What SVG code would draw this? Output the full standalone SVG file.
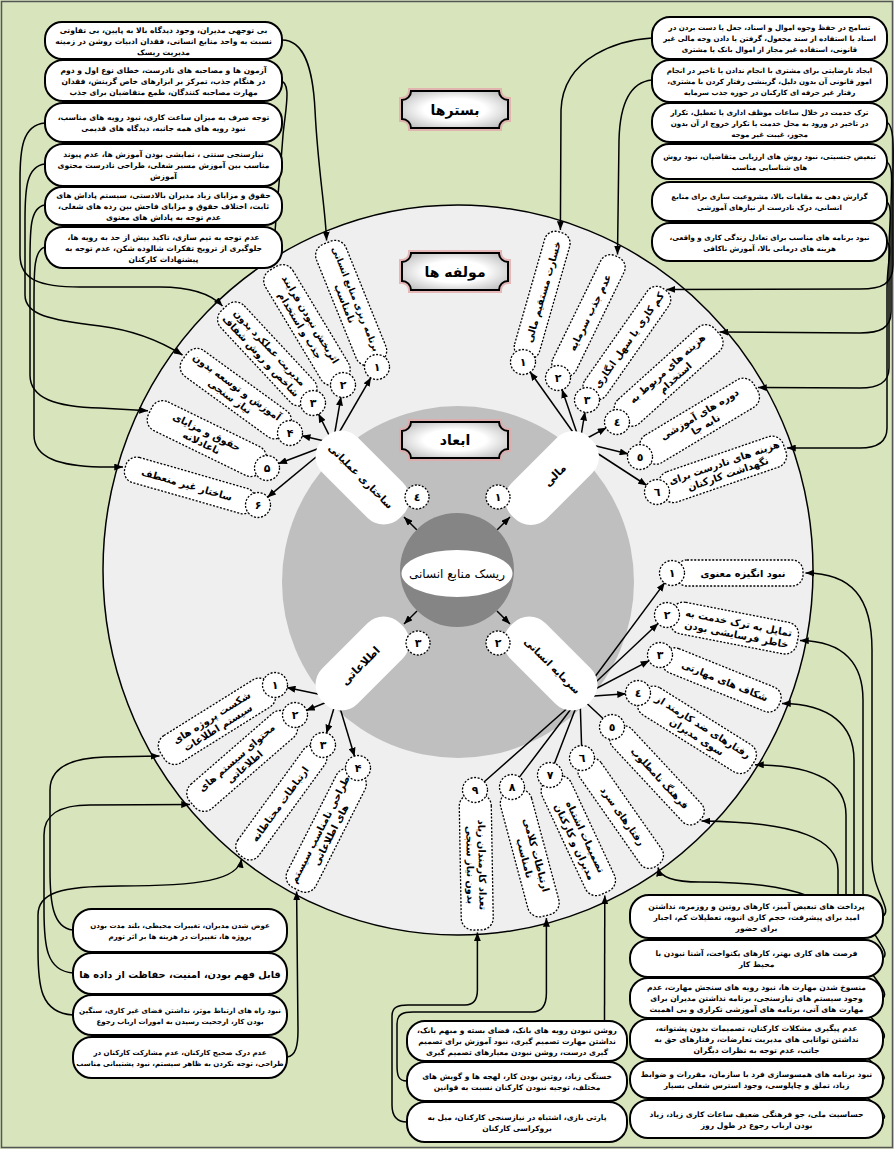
<svg xmlns="http://www.w3.org/2000/svg" width="894" height="1149" viewBox="0 0 894 1149">
<defs>
<style>
text{font-family:'DejaVu Sans',sans-serif;fill:#000}
.bx{fill:#fff;stroke:#000;stroke-width:2}
.bt{font-size:7.6px;font-weight:bold;text-anchor:middle;direction:rtl}
.ktl .bt{font-size:7.6px}
.ktr .bt{font-size:7.1px}
.kbl .bt{font-size:7.05px}
.kbm .bt{font-size:7.5px}
.kbr .bt{font-size:7.6px}
.pl{fill:#fff;stroke:#000;stroke-width:1.3;stroke-dasharray:2 1.6}
.pt{font-size:9.8px;font-weight:bold;text-anchor:middle;direction:rtl}
.nc{fill:#fff;stroke:#000;stroke-width:1.3;stroke-dasharray:2 1.6}
.nt{font-size:11px;font-weight:bold;text-anchor:middle}
.cn{fill:none;stroke:#000;stroke-width:1.5;marker-end:url(#ah)}
.ln{fill:none;stroke:#000;stroke-width:1.5}
.dp{fill:#fff}
.dt{font-size:10px;font-weight:bold;text-anchor:middle;direction:rtl}
.pq{fill:url(#pg);stroke:#000;stroke-width:2}
.pg{fill:none;stroke:#e2a9a9;stroke-width:6;stroke-opacity:0.8}
.ht{font-size:14px;font-weight:bold;text-anchor:middle;direction:rtl}
</style>
<marker id="ah" viewBox="0 0 10 8" refX="10" refY="4" markerWidth="9" markerHeight="7" markerUnits="userSpaceOnUse" orient="auto"><path d="M0,0 L10,4 L0,8 z" fill="#000"/></marker>
<radialGradient id="pg" cx="50%" cy="50%" r="65%"><stop offset="0.45" stop-color="#fff"/><stop offset="1" stop-color="#b8b8b8"/></radialGradient>
</defs>

<rect x="0" y="0" width="894" height="1149" fill="#d7e4bc"/>
<rect x="1.5" y="1.5" width="891" height="1146" fill="none" stroke="#555" stroke-width="1.5"/>

<g id="rings">
<ellipse cx="458" cy="570" rx="355" ry="365" fill="#efefef" stroke="#000" stroke-width="1.5"/>
<circle cx="458" cy="582" r="176" fill="#bfbfbf"/>
</g>

<g id="connectors">
<path class="cn" d="M282,40 C305,40 313,70 315,110 C318,170 325,205 326.6,240.5"/>
<path class="cn" d="M279,80 C292,82 286,105 283,135 C279,190 274,230 273.2,266"/>
<path class="cn" d="M45,123 C22,125 20,150 20,180 L20,255 C20,280 40,287 80,287 L160,287 C195,287 212,295 222.5,306"/>
<path class="cn" d="M45,164 C26,166 25,190 25,220 L25,295 C25,315 50,320 100,326 C140,331 165,344 182.5,355"/>
<path class="cn" d="M45,205 C30,207 30,230 30,260 L30,375 C30,398 55,407 100,408 L148,410.8"/>
<path class="cn" d="M45,247 C34,250 34,270 34,300 L34,435 C34,458 60,466 100,467 L123,467"/>
<path class="cn" d="M652,38 C622,40 563,55 561,110 L560.4,230"/>
<path class="cn" d="M652,80 C632,82 620,100 619,140 L617.5,254.5"/>
<path class="cn" d="M887,122 C895,128 893,150 893,180 L893,265 C893,284 882,289 860,289 L666.5,289.4"/>
<path class="cn" d="M887,162 C894,167 891,185 891,210 L891,312 C891,328 880,333 860,333 L719.5,332"/>
<path class="cn" d="M887,202 C893,207 889,225 889,250 L889,368 C889,383 878,388 860,388 L758,387.6"/>
<path class="cn" d="M887,242 C893,247 887,262 887,290 L887,428 C887,443 876,448 860,448 L787,448"/>
<path class="cn" d="M883,916 C893,910 872,890 872,860 L872,650 C872,598 852,573 805.5,573"/>
<path class="cn" d="M883,958 C893,951 863,930 863,900 L863,700 C863,665 845,641 800,640.6"/>
<path class="cn" d="M883,998 C893,990 854,965 854,930 L854,760 C854,725 830,704 782,703.5"/>
<path class="cn" d="M883,1039 C893,1030 846,1005 846,970 L846,815 C846,785 820,765 755,764.8"/>
<path class="cn" d="M883,1080 C893,1073 838,1045 838,1000 L838,870 C838,840 800,822 701.5,821"/>
<path class="cn" d="M883,1119 C895,1112 830,1080 830,1040 L830,920 C830,890 760,882 700,882 C675,882 660,878 658,867.5"/>
<path class="cn" d="M604.5,1021 L604.8,895.5"/>
<path class="cn" d="M407,1081 C398,1081 397,1075 397,1065 L397,1024 C397,1014 403,1012 413,1012 L532,1012 C544,1012 546.4,1003 546.4,993 L546.4,918"/>
<path class="cn" d="M407,1122 C396,1122 392,1115 392,1105 L392,1016 C392,1007 398,1005 408,1005 L465,1005 C475,1005 477.4,998 477.4,990 L477.4,932.5"/>
<path class="cn" d="M73,930 C52,928 50,900 50,870 L50,790 C50,768 70,758 105,757 L159.5,756"/>
<path class="cn" d="M73,973 C46,971 44,945 44,910 L44,835 C44,815 58,805 90,805 L190,804.5"/>
<path class="cn" d="M73,1015 C40,1013 38,985 38,950 L38,915 C38,893 60,886 120,886 C200,886 238,880 241.5,859"/>
<path class="cn" d="M287,1057 C296,1056 298,1045 298,1030 L296.6,891.5"/>
<path class="cn" d="M333,443 L371,377.4"/>
<path class="cn" d="M333,443 L341,396.8"/>
<path class="cn" d="M333,443 L318.4,413.7"/>
<path class="cn" d="M333,443 L301.7,435.7"/>
<path class="cn" d="M333,443 L278.2,463.8"/>
<path class="cn" d="M333,443 L267.3,497.4"/>
<path class="cn" d="M580,442 L530,371.8"/>
<path class="cn" d="M580,442 L561.9,389.3"/>
<path class="cn" d="M580,442 L585,411.8"/>
<path class="cn" d="M580,442 L606.5,427.7"/>
<path class="cn" d="M580,442 L628.4,454.1"/>
<path class="cn" d="M580,442 L646.9,485.5"/>
<path class="cn" d="M580,697 L664.8,582.6"/>
<path class="cn" d="M580,697 L658.3,623.2"/>
<path class="cn" d="M580,697 L649.4,660.6"/>
<path class="cn" d="M580,697 L626,693.8"/>
<path class="ln" d="M580,697 L603.3,718.8 M580,697 L581.6,746 M580,697 L554.3,763.8 M580,697 L519.2,777.4 M580,697 L484,782"/>
<path class="cn" d="M337,698 L286.7,687.5"/>
<path class="cn" d="M337,698 L306.1,710.5"/>
<path class="cn" d="M337,698 L326.4,733.5"/>
<path class="cn" d="M337,698 L354.6,756.5"/>
<path class="cn" d="M497,530 L510,517"/>
<path class="cn" d="M417,530 L404,517"/>
<path class="cn" d="M497,611 L510,624"/>
<path class="cn" d="M417,611 L404,624"/>
</g>

<g id="center">
<circle cx="457" cy="570" r="57" fill="#858585"/>
<ellipse cx="457" cy="573.5" rx="55.5" ry="23.5" fill="#fff"/>
<text x="457" y="578" font-size="12" text-anchor="middle" style="direction:rtl">ریسک منابع انسانی</text>
</g>

<g id="dim1"><g transform="translate(552,478) rotate(-45)"><rect class="dp" x="-55" y="-25" width="110" height="50" rx="23"/><text class="dt" x="4" y="4" style="font-size:11px">مالی</text></g><circle class="nc" cx="498" cy="497" r="12"/><text class="nt" x="498" y="501">۱</text></g>
<g id="dim2"><g transform="translate(550.5,663.5) rotate(45)"><rect class="dp" x="-55" y="-25" width="110" height="50" rx="23"/><text class="dt" x="3" y="4">سرمایه انسانی</text></g><circle class="nc" cx="498" cy="643" r="12"/><text class="nt" x="498" y="647">۲</text></g>
<g id="dim3"><g transform="translate(362.5,663.5) rotate(-45)"><rect class="dp" x="-55" y="-25" width="110" height="50" rx="23"/><text class="dt" x="-3" y="4" style="font-size:11px">اطلاعاتی</text></g><circle class="nc" cx="418" cy="643" r="12"/><text class="nt" x="418" y="647">۳</text></g>
<g id="dim4"><g transform="translate(362.5,477.5) rotate(45)"><rect class="dp" x="-55" y="-25" width="110" height="50" rx="23"/><text class="dt" x="-2" y="4">ساختاری عملیاتی</text></g><circle class="nc" cx="417" cy="497" r="12"/><text class="nt" x="417" y="501">٤</text></g>

<g id="plaque-bastarha"><path class="pg" d="M411,91 H499 A9,9 0 0 0 508,100 V119 A9,9 0 0 0 499,128 H411 A9,9 0 0 0 402,119 V100 A9,9 0 0 0 411,91 Z"/><path class="pq" d="M411,91 H499 A9,9 0 0 0 508,100 V119 A9,9 0 0 0 499,128 H411 A9,9 0 0 0 402,119 V100 A9,9 0 0 0 411,91 Z"/><text class="ht" x="455" y="114.5">بسترها</text></g>
<g id="plaque-molfeha"><path class="pg" d="M411,253 H499 A9,9 0 0 0 508,262 V281 A9,9 0 0 0 499,290 H411 A9,9 0 0 0 402,281 V262 A9,9 0 0 0 411,253 Z"/><path class="pq" d="M411,253 H499 A9,9 0 0 0 508,262 V281 A9,9 0 0 0 499,290 H411 A9,9 0 0 0 402,281 V262 A9,9 0 0 0 411,253 Z"/><text class="ht" x="455" y="276.5">مولفه ها</text></g>
<g id="plaque-abad"><path class="pg" d="M411,422 H499 A9,9 0 0 0 508,431 V449 A9,9 0 0 0 499,458 H411 A9,9 0 0 0 402,449 V431 A9,9 0 0 0 411,422 Z"/><path class="pq" d="M411,422 H499 A9,9 0 0 0 508,431 V449 A9,9 0 0 0 499,458 H411 A9,9 0 0 0 402,449 V431 A9,9 0 0 0 411,422 Z"/><text class="ht" x="455" y="445">ابعاد</text></g>

<g id="l1"><g transform="translate(377,367) rotate(68)"><rect class="pl" x="-134" y="-16" width="130" height="32" rx="12"/><text class="pt" x="-71" y="-2.5" style="font-size:9px">برنامه ریزی منابع انسانی</text><text class="pt" x="-71" y="9.5">نامناسب</text></g><circle class="nc" cx="377" cy="367" r="12.5"/><text class="nt" x="377" y="371">۱</text></g>
<g id="l2"><g transform="translate(343,385) rotate(59)"><rect class="pl" x="-136" y="-16" width="132" height="32" rx="12"/><text class="pt" x="-73" y="-2.5">اثربخش نبودن فرایند</text><text class="pt" x="-73" y="9.5">جذب و استخدام</text></g><circle class="nc" cx="343" cy="385" r="12.5"/><text class="nt" x="343" y="389">۲</text></g>
<g id="l3"><g transform="translate(313,403) rotate(47)"><rect class="pl" x="-130" y="-16" width="126" height="32" rx="12"/><text class="pt" x="-70" y="-2.5">مدیریت عملکرد بدون</text><text class="pt" x="-70" y="9.5">شاخص و روش شفاف</text></g><circle class="nc" cx="313" cy="403" r="12.5"/><text class="nt" x="313" y="407">۳</text></g>
<g id="l4"><g transform="translate(290,433) rotate(36)"><rect class="pl" x="-130" y="-16" width="126" height="32" rx="12"/><text class="pt" x="-70" y="-2.5">آموزش و توسعه بدون</text><text class="pt" x="-70" y="9.5">نیاز سنجی</text></g><circle class="nc" cx="290" cy="433" r="12.5"/><text class="nt" x="290" y="437">۴</text></g>
<g id="l5"><g transform="translate(267,468) rotate(26)"><rect class="pl" x="-130" y="-16" width="126" height="32" rx="12"/><text class="pt" x="-70" y="-2.5">حقوق و مزایای</text><text class="pt" x="-70" y="9.5">ناعادلانه</text></g><circle class="nc" cx="267" cy="468" r="12.5"/><text class="nt" x="267" y="472">۵</text></g>
<g id="l6"><g transform="translate(258,505) rotate(16)"><rect class="pl" x="-138" y="-13" width="134" height="26" rx="11"/><text class="pt" x="-74" y="3.5">ساختار غیر منعطف</text></g><circle class="nc" cx="258" cy="505" r="12.5"/><text class="nt" x="258" y="509">۶</text></g>

<g id="r1"><g transform="translate(523,362) rotate(-74)"><rect class="pl" x="4" y="-13" width="131" height="26" rx="11"/><text class="pt" x="73" y="3.5">خسارت مستقیم مالی</text></g><circle class="nc" cx="523" cy="362" r="12.5"/><text class="nt" x="523" y="366">۱</text></g>
<g id="r2"><g transform="translate(558,378) rotate(-64)"><rect class="pl" x="4" y="-13" width="131" height="26" rx="11"/><text class="pt" x="73" y="3.5">عدم جذب سرمایه</text></g><circle class="nc" cx="558" cy="378" r="12.5"/><text class="nt" x="558" y="382">۲</text></g>
<g id="r3"><g transform="translate(587,400) rotate(-55)"><rect class="pl" x="4" y="-13" width="131" height="26" rx="11"/><text class="pt" x="73" y="3.5">کم کاری یا سهل انگاری</text></g><circle class="nc" cx="587" cy="400" r="12.5"/><text class="nt" x="587" y="404">۳</text></g>
<g id="r4"><g transform="translate(617,422) rotate(-42)"><rect class="pl" x="4" y="-16" width="131" height="32" rx="12"/><text class="pt" x="73" y="-2.5">هزینه های مربوط به</text><text class="pt" x="73" y="9.5">استخدام</text></g><circle class="nc" cx="617" cy="422" r="12.5"/><text class="nt" x="617" y="426">٤</text></g>
<g id="r5"><g transform="translate(640,457) rotate(-31)"><rect class="pl" x="4" y="-16" width="131" height="32" rx="12"/><text class="pt" x="73" y="-2.5">دوره های آموزشی</text><text class="pt" x="73" y="9.5">نابه جا</text></g><circle class="nc" cx="640" cy="457" r="12.5"/><text class="nt" x="640" y="461">٥</text></g>
<g id="r6"><g transform="translate(657,492) rotate(-19)"><rect class="pl" x="4" y="-16" width="131" height="32" rx="12"/><text class="pt" x="73" y="-2.5">هزینه های نادرست برای</text><text class="pt" x="73" y="9.5">نگهداشت کارکنان</text></g><circle class="nc" cx="657" cy="492" r="12.5"/><text class="nt" x="657" y="496">٦</text></g>

<g id="s1"><g transform="translate(672,573) rotate(0)"><rect class="pl" x="4" y="-13" width="127" height="26" rx="11"/><text class="pt" x="71" y="3.5">نبود انگیزه معنوی</text></g><circle class="nc" cx="672" cy="573" r="12.5"/><text class="nt" x="672" y="577">۱</text></g>
<g id="s2"><g transform="translate(667,615) rotate(11)"><rect class="pl" x="4" y="-16" width="129" height="32" rx="12"/><text class="pt" x="72" y="-2.5">تمایل به ترک خدمت به</text><text class="pt" x="72" y="9.5">خاطر فرسایشی بودن</text></g><circle class="nc" cx="667" cy="615" r="12.5"/><text class="nt" x="667" y="619">۲</text></g>
<g id="s3"><g transform="translate(660,655) rotate(22)"><rect class="pl" x="4" y="-13" width="125" height="26" rx="11"/><text class="pt" x="70" y="3.5">شکاف های مهارتی</text></g><circle class="nc" cx="660" cy="655" r="12.5"/><text class="nt" x="660" y="659">۳</text></g>
<g id="s4"><g transform="translate(638,693) rotate(32)"><rect class="pl" x="4" y="-16" width="131" height="32" rx="12"/><text class="pt" x="73" y="-2.5">رفتارهای ضد کارمند از</text><text class="pt" x="73" y="9.5">سوی مدیران</text></g><circle class="nc" cx="638" cy="693" r="12.5"/><text class="nt" x="638" y="697">٤</text></g>
<g id="s5"><g transform="translate(612,727) rotate(47)"><rect class="pl" x="4" y="-13" width="124" height="26" rx="11"/><text class="pt" x="70" y="3.5">فرهنگ نامطلوب</text></g><circle class="nc" cx="612" cy="727" r="12.5"/><text class="nt" x="612" y="731">٥</text></g>
<g id="s6"><g transform="translate(582,758) rotate(55)"><rect class="pl" x="4" y="-13" width="127" height="26" rx="11"/><text class="pt" x="71" y="3.5">رفتارهای سرد</text></g><circle class="nc" cx="582" cy="758" r="12.5"/><text class="nt" x="582" y="762">٦</text></g>
<g id="s7"><g transform="translate(550,775) rotate(65)"><rect class="pl" x="4" y="-16" width="126" height="32" rx="12"/><text class="pt" x="71" y="-2.5">تصمیمات اشتباه</text><text class="pt" x="71" y="9.5">مدیران و کارکنان</text></g><circle class="nc" cx="550" cy="775" r="12.5"/><text class="nt" x="550" y="779">٧</text></g>
<g id="s8"><g transform="translate(512,787) rotate(75)"><rect class="pl" x="4" y="-16" width="129" height="32" rx="12"/><text class="pt" x="72" y="-2.5">ارتباطات کلامی</text><text class="pt" x="72" y="9.5">نامناسب</text></g><circle class="nc" cx="512" cy="787" r="12.5"/><text class="nt" x="512" y="791">٨</text></g>
<g id="s9"><g transform="translate(475,790) rotate(89)"><rect class="pl" x="4" y="-16" width="136" height="32" rx="12"/><text class="pt" x="75" y="-2.5">تعداد کارمندان زیاد</text><text class="pt" x="75" y="9.5">بدون نیاز سنجی</text></g><circle class="nc" cx="475" cy="790" r="12.5"/><text class="nt" x="475" y="794">٩</text></g>

<g id="i1"><g transform="translate(275,685) rotate(-32)"><rect class="pl" x="-133" y="-16" width="129" height="32" rx="12"/><text class="pt" x="-71" y="-2.5">شکست پروژه های</text><text class="pt" x="-71" y="9.5">سیستم اطلاعات</text></g><circle class="nc" cx="275" cy="685" r="12.5"/><text class="nt" x="275" y="689">۱</text></g>
<g id="i2"><g transform="translate(295,715) rotate(-41)"><rect class="pl" x="-136" y="-16" width="132" height="32" rx="12"/><text class="pt" x="-72" y="-2.5">محتوای سیستم های</text><text class="pt" x="-72" y="9.5">اطلاعاتی</text></g><circle class="nc" cx="295" cy="715" r="12.5"/><text class="nt" x="295" y="719">۲</text></g>
<g id="i3"><g transform="translate(323,745) rotate(-54)"><rect class="pl" x="-138" y="-13" width="134" height="26" rx="11"/><text class="pt" x="-73" y="3.5">ارتباطات محتاطانه</text></g><circle class="nc" cx="323" cy="745" r="12.5"/><text class="nt" x="323" y="749">۳</text></g>
<g id="i4"><g transform="translate(358,768) rotate(-63)"><rect class="pl" x="-136" y="-16" width="132" height="32" rx="12"/><text class="pt" x="-72" y="-2.5">طراحی نامناسب سیستم</text><text class="pt" x="-72" y="9.5">های اطلاعاتی</text></g><circle class="nc" cx="358" cy="768" r="12.5"/><text class="nt" x="358" y="772">۴</text></g>

<g id="tl1" class="ktl"><rect class="bx" x="45" y="22" width="237" height="37" rx="17"/><text class="bt" x="163.5" y="32.5">بی توجهی مدیران، وجود دیدگاه بالا به پایین، بی تفاوتی</text><text class="bt" x="163.5" y="43.5">نسبت به واحد منابع انسانی، فقدان ادبیات روشن در زمینه</text><text class="bt" x="163.5" y="54.5">مدیریت ریسک</text></g>
<g id="tl2" class="ktl"><rect class="bx" x="45" y="60" width="237" height="41" rx="18"/><text class="bt" x="163.5" y="72.5">آزمون ها و مصاحبه های نادرست، خطای نوع اول و دوم</text><text class="bt" x="163.5" y="83.5">در هنگام جذب، تمرکز بر ابزارهای خاص گزینش، فقدان</text><text class="bt" x="163.5" y="94.5">مهارت مصاحبه کنندگان، طمع متقاضیان برای جذب</text></g>
<g id="tl3" class="ktl"><rect class="bx" x="45" y="103" width="237" height="39" rx="18"/><text class="bt" x="163.5" y="120">توجه صرف به میزان ساعت کاری، نبود رویه های مناسب،</text><text class="bt" x="163.5" y="131">نبود رویه های همه جانبه، دیدگاه های قدیمی</text></g>
<g id="tl4" class="ktl"><rect class="bx" x="45" y="144" width="237" height="42" rx="18"/><text class="bt" x="163.5" y="157">نیازسنجی سنتی ، نمایشی بودن آموزش ها، عدم پیوند</text><text class="bt" x="163.5" y="168">مناسب بین آموزش مسیر شغلی، طراحی نادرست محتوی</text><text class="bt" x="163.5" y="179">آموزش</text></g>
<g id="tl5" class="ktl"><rect class="bx" x="45" y="187" width="237" height="38" rx="17"/><text class="bt" x="163.5" y="198">حقوق و مزایای زیاد مدیران بالادستی، سیستم پاداش های</text><text class="bt" x="163.5" y="209">ثابت، اختلاف حقوق و مزایای فاحش بین رده های شغلی،</text><text class="bt" x="163.5" y="220">عدم توجه به پاداش های معنوی</text></g>
<g id="tl6" class="ktl"><rect class="bx" x="45" y="227" width="237" height="41" rx="18"/><text class="bt" x="163.5" y="239.5">عدم توجه به تیم سازی، تاکید بیش از حد به رویه ها،</text><text class="bt" x="163.5" y="250.5">جلوگیری از ترویج تفکرات شالوده شکن، عدم توجه به</text><text class="bt" x="163.5" y="261.5">پیشنهادات کارکنان</text></g>

<g id="tr1" class="ktr"><rect class="bx" x="652" y="17" width="235" height="42" rx="18"/><text class="bt" x="769.5" y="30">تسامح در حفظ وجوه اموال و اسناد، جعل یا دست بردن در</text><text class="bt" x="769.5" y="41">اسناد یا استفاده از سند مجعول، گرفتن یا دادن وجه مالی غیر</text><text class="bt" x="769.5" y="52">قانونی، استفاده غیر مجاز از اموال بانک یا مشتری</text></g>
<g id="tr2" class="ktr"><rect class="bx" x="652" y="60" width="235" height="42" rx="18"/><text class="bt" x="769.5" y="73">ایجاد نارضایتی برای مشتری با انجام ندادن یا تاخیر در انجام</text><text class="bt" x="769.5" y="84">امور قانونی آن بدون دلیل، گزینشی رفتار کردن با مشتری،</text><text class="bt" x="769.5" y="95">رفتار غیر حرفه ای کارکنان در حوزه جذب سرمایه</text></g>
<g id="tr3" class="ktr"><rect class="bx" x="652" y="103" width="235" height="39" rx="18"/><text class="bt" x="769.5" y="114.5">ترک خدمت در خلال ساعات موظف اداری یا تعطیل، تکرار</text><text class="bt" x="769.5" y="125.5">در تاخیر در ورود به محل خدمت یا تکرار خروج از آن بدون</text><text class="bt" x="769.5" y="136.5">مجوز، غیبت غیر موجه</text></g>
<g id="tr4" class="ktr"><rect class="bx" x="652" y="144" width="235" height="35" rx="17"/><text class="bt" x="769.5" y="159">تبعیض جنسیتی، نبود روش های ارزیابی متقاضیان، نبود روش</text><text class="bt" x="769.5" y="170">های شناسایی مناسب</text></g>
<g id="tr5" class="ktr"><rect class="bx" x="652" y="182" width="235" height="39" rx="18"/><text class="bt" x="769.5" y="199">گزارش دهی به مقامات بالا، مشروعیت سازی برای منابع</text><text class="bt" x="769.5" y="210">انسانی، درک نادرست از نیازهای آموزشی</text></g>
<g id="tr6" class="ktr"><rect class="bx" x="652" y="223" width="235" height="38" rx="18"/><text class="bt" x="769.5" y="239.5">نبود برنامه های مناسب برای تعادل زندگی کاری و واقعی،</text><text class="bt" x="769.5" y="250.5">هزینه های درمانی بالا، آموزش ناکافی</text></g>

<g id="bl1" class="kbl"><rect class="bx" x="73" y="909" width="214" height="43" rx="19"/><text class="bt" x="180" y="928">عوض شدن مدیران، تغییرات محیطی، بلند مدت بودن</text><text class="bt" x="180" y="939">پروژه ها، تغییرات در هزینه ها بر اثر تورم</text></g>
<g id="bl2" class="kbl"><rect class="bx" x="73" y="953" width="214" height="41" rx="19"/><text class="bt" x="180" y="977.5" style="font-size:9.8px">قابل فهم بودن، امنیت، حفاظت از داده ها</text></g>
<g id="bl3" class="kbl"><rect class="bx" x="73" y="995" width="214" height="40" rx="19"/><text class="bt" x="180" y="1012.5">نبود راه های ارتباط موثر، نداشتن فضای غیر کاری، سنگین</text><text class="bt" x="180" y="1023.5">بودن کار، ارجحیت رسیدن به امورات ارباب رجوع</text></g>
<g id="bl4" class="kbl"><rect class="bx" x="73" y="1037" width="214" height="41" rx="19"/><text class="bt" x="180" y="1055">عدم درک صحیح کارکنان، عدم مشارکت کارکنان در</text><text class="bt" x="180" y="1066">طراحی، توجه نکردن به ظاهر سیستم، نبود پشتیبانی مناسب</text></g>

<g id="bm1" class="kbm"><rect class="bx" x="407" y="1021" width="220" height="40" rx="18"/><text class="bt" x="517" y="1033">روشن نبودن رویه های بانک، فضای بسته و مبهم بانک،</text><text class="bt" x="517" y="1044">نداشتن مهارت تصمیم گیری، نبود آموزش برای تصمیم</text><text class="bt" x="517" y="1055">گیری درست، روشن نبودن معیارهای تصمیم گیری</text></g>
<g id="bm2" class="kbm"><rect class="bx" x="407" y="1062" width="220" height="39" rx="18"/><text class="bt" x="517" y="1079">خستگی زیاد، روتین بودن کار، لهجه ها و گویش های</text><text class="bt" x="517" y="1090">مختلف، توجیه نبودن کارکنان نسبت به قوانین</text></g>
<g id="bm3" class="kbm"><rect class="bx" x="407" y="1102" width="220" height="40" rx="18"/><text class="bt" x="517" y="1119.5">پارتی بازی، اشتباه در نیازسنجی کارکنان، میل به</text><text class="bt" x="517" y="1130.5">بروکراسی کارکنان</text></g>

<g id="br1" class="kbr"><rect class="bx" x="630" y="895" width="253" height="43" rx="19"/><text class="bt" x="756.5" y="908.5">پرداخت های تبعیض آمیز، کارهای روتین و روزمره، نداشتن</text><text class="bt" x="756.5" y="919.5">امید برای پیشرفت، حجم کاری انبوه، تعطیلات کم، اجبار</text><text class="bt" x="756.5" y="930.5">برای حضور</text></g>
<g id="br2" class="kbr"><rect class="bx" x="630" y="940" width="253" height="37" rx="18"/><text class="bt" x="756.5" y="956">فرصت های کاری بهتر، کارهای یکنواخت، آشنا نبودن با</text><text class="bt" x="756.5" y="967">محیط کار</text></g>
<g id="br3" class="kbr"><rect class="bx" x="630" y="978" width="253" height="40" rx="18"/><text class="bt" x="756.5" y="990">منسوخ شدن مهارت ها، نبود رویه های سنجش مهارت، عدم</text><text class="bt" x="756.5" y="1001">وجود سیستم های نیازسنجی، برنامه نداشتن مدیران برای</text><text class="bt" x="756.5" y="1012">مهارت های آتی، برنامه های آموزشی تکراری و بی اهمیت</text></g>
<g id="br4" class="kbr"><rect class="bx" x="630" y="1019" width="253" height="40" rx="18"/><text class="bt" x="756.5" y="1031">عدم پیگیری مشکلات کارکنان، تصمیمات بدون پشتوانه،</text><text class="bt" x="756.5" y="1042">نداشتن توانایی های مدیریت تعارضات، رفتارهای حق به</text><text class="bt" x="756.5" y="1053">جانب، عدم توجه به نظرات دیگران</text></g>
<g id="br5" class="kbr"><rect class="bx" x="630" y="1061" width="253" height="37" rx="18"/><text class="bt" x="756.5" y="1077">نبود برنامه های همسوسازی فرد با سازمان، مقررات و ضوابط</text><text class="bt" x="756.5" y="1088">زیاد، تملق و چاپلوسی، وجود استرس شغلی بسیار</text></g>
<g id="br6" class="kbr"><rect class="bx" x="630" y="1100" width="253" height="38" rx="18"/><text class="bt" x="756.5" y="1116.5">حساسیت ملی، جو فرهنگی ضعیف ساعات کاری زیاد، زیاد</text><text class="bt" x="756.5" y="1127.5">بودن ارباب رجوع در طول روز</text></g>
</svg>
